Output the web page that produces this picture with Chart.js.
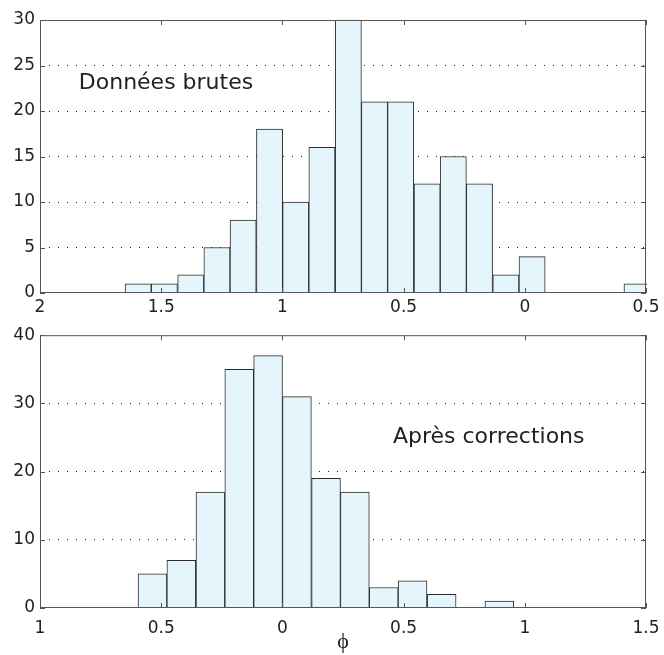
<!DOCTYPE html>
<html>
<head>
<meta charset="utf-8">
<script src="https://cdn.jsdelivr.net/npm/chart.js@4.4.1/dist/chart.umd.min.js"></script>
<style>
    html, body { margin: 0; padding: 0; background: #fff; }
    #wrap { position: relative; width: 664px; height: 655px; }
    .box { position: absolute; left: 0; width: 664px; }
</style>
</head>
<body>
<div id="wrap">
    <div class="box" style="top:0;height:320px"><canvas id="raw-chart"></canvas></div>
    <div class="box" style="top:320px;height:335px"><canvas id="corr-chart"></canvas></div>
</div>
<script>
// ========================================
// Data
// ========================================
// Top: raw data histogram (bin centres, counts)
const rawBins = [-1.595, -1.487, -1.378, -1.270, -1.162, -1.053, -0.945, -0.837, -0.728, -0.620,
                 -0.512, -0.403, -0.295, -0.187, -0.078, 0.030, 0.138, 0.247, 0.355, 0.463];
const rawCounts = [1, 1, 2, 5, 8, 18, 10, 16, 30, 21, 21, 12, 15, 12, 2, 4, 0, 0, 0, 1];
const rawTickLabels = ['2', '1.5', '1', '0.5', '0', '0.5'];

// Bottom: after corrections
const corrBins = [-0.536, -0.417, -0.297, -0.178, -0.059, 0.060, 0.180, 0.299, 0.418, 0.537,
                  0.657, 0.776, 0.895];
const corrCounts = [5, 7, 17, 35, 37, 31, 19, 17, 3, 4, 2, 0, 1];
const corrTickLabels = ['1', '0.5', '0', '0.5', '1', '1.5'];

const colors = {
    fill: '#e4f6fb',
    edge: '#2a2a2a',
    frame: '#555555',
    grid: '#222222',
    text: '#222222'
};

Chart.defaults.font.family = "'DejaVu Sans', sans-serif";
Chart.defaults.font.size = 17;
Chart.defaults.color = colors.text;
Chart.defaults.plugins.legend.display = false;
Chart.defaults.plugins.tooltip.enabled = false;
Chart.defaults.animation = false;

// frame around the plot + inward tick marks (matlab look)
const framePlugin = {
    id: 'frame',
    afterDatasetsDraw(chart) {
        const { ctx, chartArea: a, scales: { x, y } } = chart;
        ctx.save();
        ctx.strokeStyle = colors.frame;
        ctx.lineWidth = 1;
        ctx.strokeRect(a.left + 0.5, a.top + 0.5, a.right - a.left - 1, a.bottom - a.top - 1);
        ctx.beginPath();
        x.ticks.forEach(t => {
            const px = Math.round(x.getPixelForValue(t.value)) + 0.5;
            ctx.moveTo(px, a.bottom); ctx.lineTo(px, a.bottom - 5);
            ctx.moveTo(px, a.top); ctx.lineTo(px, a.top + 5);
        });
        y.ticks.forEach(t => {
            const py = Math.round(y.getPixelForValue(t.value)) + 0.5;
            ctx.moveTo(a.left, py); ctx.lineTo(a.left + 5, py);
            ctx.moveTo(a.right, py); ctx.lineTo(a.right - 5, py);
        });
        ctx.stroke();
        ctx.restore();
    }
};

// text label placed in data coordinates
const notePlugin = {
    id: 'note',
    afterDatasetsDraw(chart, args, opts) {
        if (!opts.text) return;
        const { ctx, scales: { x, y } } = chart;
        ctx.save();
        ctx.font = "22px 'DejaVu Sans', sans-serif";
        ctx.fillStyle = colors.text;
        ctx.textAlign = 'left';
        ctx.textBaseline = 'middle';
        ctx.fillText(opts.text, x.getPixelForValue(opts.x), y.getPixelForValue(opts.y));
        ctx.restore();
    }
};

function makeHistogram(canvasId, bins, counts, xMin, xMax, yMax, yStep, tickLabels, note, extra) {
    const ctx = document.getElementById(canvasId);
    return new Chart(ctx, {
        type: 'bar',
        data: {
            datasets: [{
                data: bins.map((b, i) => ({ x: b, y: counts[i] })),
                backgroundColor: colors.fill,
                borderColor: colors.edge,
                borderWidth: 1,
                barPercentage: 1,
                categoryPercentage: 1,
                clip: 1
            }]
        },
        options: {
            responsive: true,
            maintainAspectRatio: false,
            layout: { padding: { top: extra.top, right: 18, left: 0, bottom: 0 } },
            scales: {
                x: {
                    type: 'linear',
                    min: xMin,
                    max: xMax,
                    offset: false,
                    grid: { display: false, offset: false },
                    border: { display: false },
                    ticks: {
                        stepSize: 0.5,
                        autoSkip: false,
                        maxRotation: 0,
                        padding: extra.tickPad,
                        callback: (v, i) => tickLabels[i]
                    },
                    title: extra.title || { display: false },
                    afterFit: (s) => { s.height = extra.xHeight; }
                },
                y: {
                    min: 0,
                    max: yMax,
                    grid: {
                        drawTicks: false,
                        color: (c) => (c.tick && (c.tick.value === 0 || c.tick.value === yMax)) ? 'rgba(0,0,0,0)' : colors.grid
                    },
                    border: { display: false, dash: [1, 8] },
                    ticks: { stepSize: yStep, padding: 5 },
                    afterFit: (s) => { s.width = 40; }
                }
            },
            plugins: { note: note }
        },
        plugins: [framePlugin, notePlugin]
    });
}

makeHistogram('raw-chart', rawBins, rawCounts, -2, 0.5, 30, 5, rawTickLabels,
    { text: 'Données brutes', x: -1.84, y: 23.1 },
    { top: 20, xHeight: 27, tickPad: -4 });

makeHistogram('corr-chart', corrBins, corrCounts, -1, 1.5, 40, 10, corrTickLabels,
    { text: 'Après corrections', x: 0.456, y: 25 },
    {
        top: 15, xHeight: 47, tickPad: 2,
        title: {
            display: true,
            text: 'ϕ',
            font: { family: "'Liberation Serif', serif", size: 22 },
            color: colors.text,
            padding: 0
        }
    });
</script>
</body>
</html>
